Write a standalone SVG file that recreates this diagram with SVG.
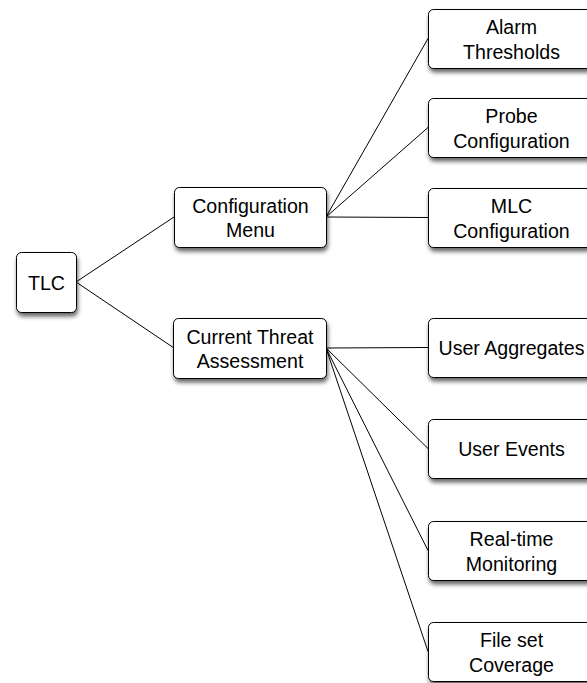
<svg xmlns="http://www.w3.org/2000/svg" width="587" height="683" viewBox="0 0 587 683">
<defs>
<filter id="sh" x="-20%" y="-20%" width="140%" height="150%">
<feDropShadow dx="1" dy="3.5" stdDeviation="2" flood-color="#000" flood-opacity="0.6"/>
</filter>
</defs>
<style>
.box{fill:#fff;stroke:#000;stroke-width:1;filter:url(#sh)}
.t{font-family:"Liberation Sans",Arial,sans-serif;font-size:19.6px;fill:#000;text-anchor:middle}
.c{stroke:#000;stroke-width:1;fill:none}
</style>
<rect width="587" height="683" fill="#fff"/>
<g id="connectors">
<line class="c" x1="76" y1="282" x2="174" y2="217"/>
<line class="c" x1="76" y1="282" x2="174" y2="348"/>
<line class="c" x1="326" y1="217" x2="428" y2="38.5"/>
<line class="c" x1="326" y1="217" x2="428" y2="127.5"/>
<line class="c" x1="326" y1="217" x2="428" y2="217.5"/>
<line class="c" x1="326" y1="348" x2="428" y2="347.5"/>
<line class="c" x1="326" y1="348" x2="428" y2="448.5"/>
<line class="c" x1="326" y1="348" x2="428" y2="550.5"/>
<line class="c" x1="326" y1="348" x2="428" y2="651.5"/>
</g>
<g id="tlc"><rect class="box" x="16.5" y="252.5" width="60" height="60" rx="5"/><text class="t" x="46.5" y="290">TLC</text></g>
<g id="config"><rect class="box" x="174.5" y="187.5" width="152" height="60" rx="5"/><text class="t" x="250.5" y="213">Configuration</text><text class="t" x="250.5" y="237">Menu</text></g>
<g id="cta"><rect class="box" x="173.5" y="318.5" width="153" height="60" rx="5"/><text class="t" x="250" y="344">Current Threat</text><text class="t" x="250" y="368">Assessment</text></g>
<g id="alarm"><rect class="box" x="428.5" y="9.5" width="166" height="59" rx="5"/><text class="t" x="511.5" y="34">Alarm</text><text class="t" x="511.5" y="59">Thresholds</text></g>
<g id="probe"><rect class="box" x="428.5" y="98.5" width="166" height="59" rx="5"/><text class="t" x="511.5" y="123">Probe</text><text class="t" x="511.5" y="148">Configuration</text></g>
<g id="mlc"><rect class="box" x="428.5" y="188.5" width="166" height="59" rx="5"/><text class="t" x="511.5" y="213">MLC</text><text class="t" x="511.5" y="238">Configuration</text></g>
<g id="useragg"><rect class="box" x="428.5" y="318.5" width="166" height="59" rx="5"/><text class="t" x="511.5" y="355">User Aggregates</text></g>
<g id="userevents"><rect class="box" x="428.5" y="419.5" width="166" height="59" rx="5"/><text class="t" x="511.5" y="456">User Events</text></g>
<g id="realtime"><rect class="box" x="428.5" y="521.5" width="166" height="59" rx="5"/><text class="t" x="511.5" y="546">Real-time</text><text class="t" x="511.5" y="571">Monitoring</text></g>
<g id="fileset"><rect class="box" x="428.5" y="622.5" width="166" height="59" rx="5"/><text class="t" x="511.5" y="647">File set</text><text class="t" x="511.5" y="672">Coverage</text></g>
</svg>
